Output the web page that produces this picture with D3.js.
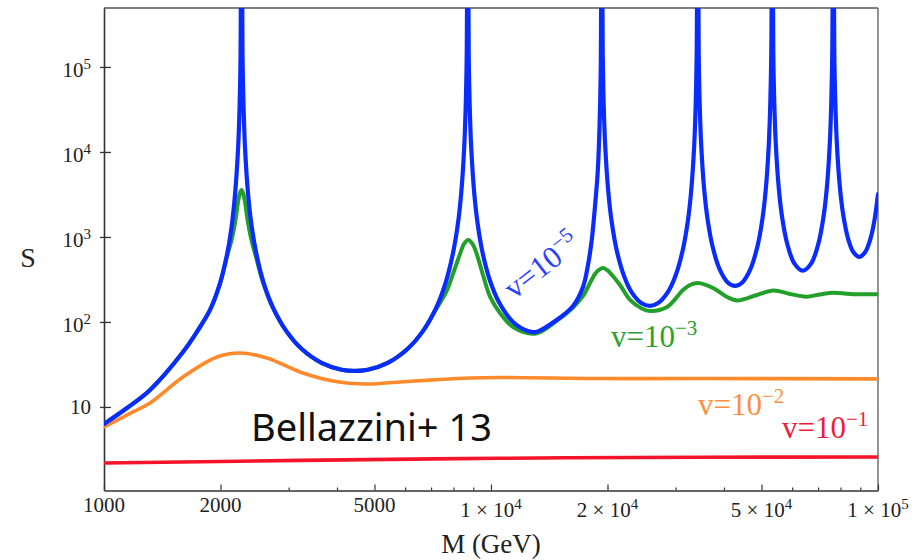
<!DOCTYPE html>
<html><head><meta charset="utf-8">
<script src="https://cdn.jsdelivr.net/npm/d3@7"></script>
<style>body{margin:0;background:#fff}svg{display:block}</style>
</head><body>
<svg id="c" width="919" height="560"></svg>
<script>
// ---- data (M in GeV, S); 5e7 marks a resonance running off the top ----
const blueM = [1000,1147,1315,1600,1744,1879,1988,2073,2136,2180,2220,2240,2253,2266,2280,2294,2314,2356,2405,2478,2583,2733,2962,3238,3648,4109,4442,4802,5410,6093,6663,7219,7639,7963,8204,8375,8526,8603,8654,8706,8758,8810,8889,9049,9239,9518,9923,10470,11380,12440,13070,14780,16290,17290,17810,18210,18570,18870,19070,19210,19320,19440,19550,19730,20090,20510,21130,22030,23100,24520,25710,26960,28610,30010,31280,32230,32900,33500,33800,34000,34200,34410,34610,34920,35550,36300,37400,38990,40890,42700,44600,46770,48760,50230,51290,52220,52680,53000,53310,53630,53950,54440,55420,56580,58290,60770,63920,67230,70090,72210,73730,75060,75730,76180,76630,77090,77550,78250,79660,81330,83790,86320,89460,92700,95350,97650,100000];
const blueS = [6.31,9.73,15.85,44.37,78.37,138.4,272.5,581.9,1311,3120,10700,32940,131100,5e7,137300,34390,11240,3258,1380,621,293.1,147.7,77.5,48.38,33.02,27.39,26.52,27.39,33.02,48.38,77.5,147.7,293.1,621,1380,3258,11240,34390,137300,5e7,138800,34670,11360,3311,1415,643.2,313.7,172.8,100.8,78.37,76.26,105.6,154.3,258.1,468.4,921.6,2316,5819,19160,92200,5e7,144100,36010,11800,3457,1493,693.7,355.3,223,165.5,154.2,165.5,223,355.3,693.7,1493,3457,11800,36010,144100,5e7,149700,37410,12290,3631,1585,760.6,414.6,291.6,265.2,291.6,414.6,760.6,1585,3631,12290,37410,149700,5e7,151400,38020,12490,3721,1655,825,489.2,401.2,489.2,825,1655,3721,12490,38020,151400,5e7,159300,40030,13180,3971,1805,936.7,666.2,581.9,666.2,914.5,1461,3188];

const greenM = [1000,1147,1315,1600,1744,1879,1988,2073,2142,2187,2220,2246,2266,2287,2314,2349,2398,2478,2583,2733,2962,3238,3648,4109,4442,4802,5410,6093,6663,7219,7682,7990,8316,8515,8736,8958,9185,9552,9941,10550,11400,13070,14780,16290,17290,17810,18570,19010,19470,19940,20540,21540,22870,24520,25750,28500,31340,32670,34270,37470,40720,43350,48680,53700,59240,65160,70820,76630,84670,100000];
const greenS = [6.31,9.73,15.85,44.37,78.37,138.4,268.8,566.3,973.3,1585,2581,3294,3573,3294,2581,1585,973.3,551.1,280,146.1,77.5,48.38,33.02,27.39,26.52,27.39,33.02,48.38,77.5,142.2,231.6,377.1,631,827.3,921.6,827.3,631,347.7,198.5,127.6,87.36,73.22,102.7,148.1,202.2,258.1,367,409.1,431.8,409.1,357.2,272.5,181.5,144.2,134.7,150.1,237.9,272.5,287.6,251.2,196.9,179,207.8,234.7,213.5,198.5,210.6,221.2,213.5,211.8];

const orangeM = [1000,1188,1315,1600,1959,2246,2637,3210,3906,4782,5821,7084,8825,10550,19130,34680,100000];
const orangeS = [5.82,8.73,11.15,22.5,38.7,43.2,37.7,25.8,20.2,18.6,19.7,20.8,21.9,22.2,21.6,21.6,21.4];

const redM = [1000,3210,10550,34680,100000];
const redS = [2.19,2.35,2.49,2.56,2.58];

const xMajor = [1000,2000,5000,10000,20000,50000,100000];
const xMajorMant = ["1000","2000","5000","1","2","5","1"];
const xMajorExp = ["","","","4","4","4","5"];
const xMinor = [3000,4000,6000,7000,8000,9000,30000,40000,60000,70000,80000,90000];
const yTicks = [10,100,1000,10000,100000];
const yTickExp = ["","2","3","4","5"];

const seriesColors = ["#f5142a","#ff8a2c","#22a02a","#0a2cff"];
const labelColors = ["#ee1c3a","#ff8f3c","#2ca02c","#2a40ff"];
const labelExp = ["\u22121","\u22122","\u22123","\u22125"];

// ---- layout ----
const L=104,R=878,T=8,B=490.5;
const svg=d3.select("#c");
const x=d3.scaleLog().domain([1000,100000]).range([L,R]);
const y=d3.scaleLog().domain([1.04,4.94e5]).range([B,T]);
const serif="'Liberation Serif','Times New Roman',serif";

svg.append("defs").append("clipPath").attr("id","clip")
  .append("rect").attr("x",L).attr("y",T).attr("width",R-L).attr("height",B-T);

// frame top & right
svg.append("line").attr("x1",L).attr("x2",R).attr("y1",T).attr("y2",T).attr("stroke","#555").attr("stroke-width",1.4);
svg.append("line").attr("x1",R).attr("x2",R).attr("y1",T).attr("y2",B).attr("stroke","#666").attr("stroke-width",1.4);

// x axis
const gx=svg.append("g").attr("transform",`translate(0,${B})`)
  .call(d3.axisBottom(x).tickValues(xMajor).tickSizeInner(-6).tickSizeOuter(0).tickFormat(""));
const gxm=svg.append("g").attr("transform",`translate(0,${B})`)
  .call(d3.axisBottom(x).tickValues(xMinor).tickSizeInner(-3).tickSizeOuter(0).tickFormat(""));
gxm.select(".domain").remove();
[gx,gxm].forEach(g=>{g.selectAll("line").attr("stroke","#333").attr("stroke-width",1.2);});
gx.select(".domain").attr("stroke","#333").attr("stroke-width",1.6);

// y axis
const gy=svg.append("g").attr("transform",`translate(${L},0)`)
  .call(d3.axisLeft(y).tickValues(yTicks).tickSizeOuter(0).tickFormat(""));
gy.selectAll(".tick line").attr("x1",-4).attr("x2",7).attr("stroke","#333").attr("stroke-width",1.3);
gy.select(".domain").attr("stroke","#333").attr("stroke-width",1.6);

// x tick labels
xMajor.forEach((v,i)=>{
  const t=svg.append("text").attr("x",x(v)).attr("text-anchor","middle")
    .attr("font-family",serif).attr("font-size",21).attr("fill","#222")
    .attr("xml:space","preserve");
  if(xMajorExp[i]===""){
    t.attr("y",512).text(xMajorMant[i]);
  } else {
    t.attr("y",517);
    t.append("tspan").text(xMajorMant[i]+" \u00d7 10");
    t.append("tspan").attr("dy",-8).attr("font-size",15).text(xMajorExp[i]);
  }
});
// y tick labels
yTicks.forEach((v,i)=>{
  const t=svg.append("text").attr("x",91).attr("text-anchor","end")
    .attr("font-family",serif).attr("font-size",21).attr("fill","#222");
  if(yTickExp[i]===""){
    t.attr("y",y(v)+7).text("10");
  } else {
    t.attr("y",y(v)+10);
    t.append("tspan").text("10");
    t.append("tspan").attr("dy",-8).attr("font-size",15).text(yTickExp[i]);
  }
});

// axis titles
svg.append("text").attr("x",491).attr("y",553).attr("text-anchor","middle")
  .attr("font-family",serif).attr("font-size",27).attr("fill","#222").text("M (GeV)");
svg.append("text").attr("x",28).attr("y",267).attr("text-anchor","middle")
  .attr("font-family",serif).attr("font-size",28).attr("fill","#222").text("S");

// curves
const line=d3.line().x(d=>x(d[0])).y(d=>y(d[1])).curve(d3.curveCatmullRom.alpha(0.5));
const series=[
  d3.zip(redM,redS), d3.zip(orangeM,orangeS), d3.zip(greenM,greenS), d3.zip(blueM,blueS)
];
const widths=[3.6,3.6,4,4.2];
const gc=svg.append("g").attr("clip-path","url(#clip)");
series.forEach((s,i)=>{
  gc.append("path").datum(s).attr("d",line).attr("fill","none")
    .attr("stroke",seriesColors[i]).attr("stroke-width",widths[i])
    .attr("stroke-linejoin","round").attr("stroke-linecap","round");
});

// series labels
function vlabel(i,tx,ty,rot){
  const t=svg.append("text").attr("transform",`translate(${tx},${ty}) rotate(${rot})`)
    .attr("font-family",serif).attr("font-size",31).attr("fill",labelColors[i]);
  t.append("tspan").text("v=10");
  t.append("tspan").attr("dy",-12).attr("font-size",21).text(labelExp[i]);
}
vlabel(2,611,347,0);
vlabel(1,698,415,0);
vlabel(0,782,438,0);
vlabel(3,514,300,-38);

// annotation
svg.append("text").attr("x",251).attr("y",441)
  .attr("font-family","'Noto Sans',sans-serif").attr("font-size",38).attr("fill","#111")
  .text("Bellazzini+ 13");
</script>
</body></html>
